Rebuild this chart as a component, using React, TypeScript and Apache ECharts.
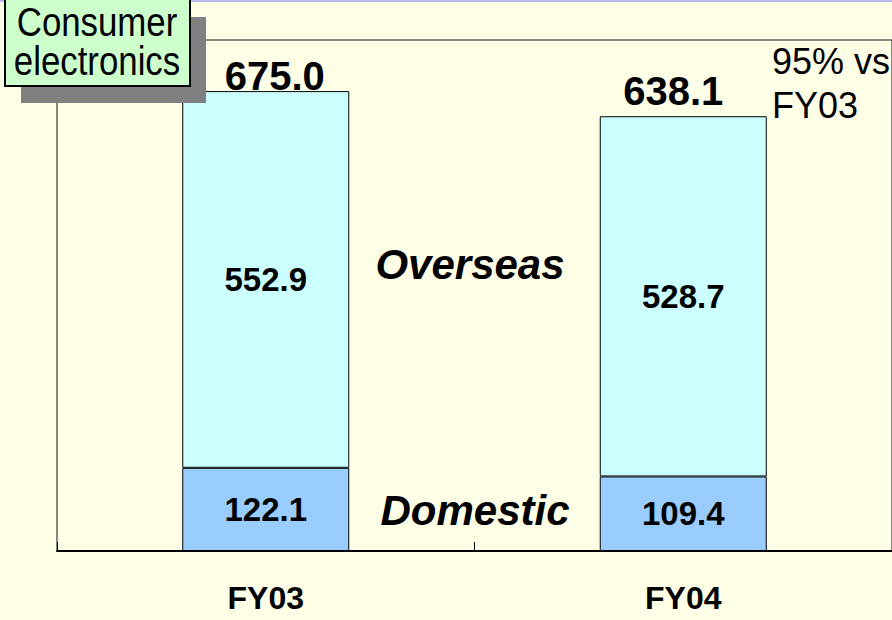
import React, { useEffect, useRef } from "react";
import * as echarts from "echarts";

const categories = ["FY03", "FY04"];
const domestic = [122.1, 109.4];
const overseas = [552.9, 528.7];
const totals = [675.0, 638.1];
const totalLabelOffsets = [
  [9, -15],
  [-10, -25],
];
const yMax = 750;

const FONT = "'Liberation Sans', Arial, sans-serif";

export default function App() {
  const ref = useRef<HTMLDivElement>(null);
  useEffect(() => {
    if (!ref.current) return;
    const chart = echarts.init(ref.current, null, { renderer: "svg" });
    const barLabel = {
      show: true,
      position: "inside",
      color: "#000",
      fontFamily: FONT,
      fontWeight: "bold",
      fontSize: 33,
      formatter: (p: any) => Number(p.value).toFixed(1),
    };
    chart.setOption({
      animation: false,
      backgroundColor: "#FFFFE8",
      textStyle: { fontFamily: FONT },
      grid: {
        left: 57,
        top: 40,
        right: -3,
        bottom: 69,
        show: true,
        borderColor: "#111",
        borderWidth: 1,
        backgroundColor: "transparent",
      },
      xAxis: {
        type: "category",
        data: categories,
        axisLine: { lineStyle: { color: "#000", width: 2 } },
        axisTick: { show: true, inside: true, length: 9, lineStyle: { color: "#000", width: 1 } },
        axisLabel: { color: "#000", fontSize: 32, fontWeight: "bold", fontFamily: FONT, margin: 31 },
      },
      yAxis: {
        type: "value",
        min: 0,
        max: yMax,
        axisLine: { show: false },
        axisTick: { show: false },
        axisLabel: { show: false },
        splitLine: { show: false },
      },
      series: [
        {
          name: "Domestic",
          type: "bar",
          stack: "total",
          barWidth: 167,
          data: domestic,
          itemStyle: { color: "#99CCFF", borderColor: "#000", borderWidth: 1 },
          label: barLabel,
        },
        {
          name: "Overseas",
          type: "bar",
          stack: "total",
          barWidth: 167,
          data: overseas,
          itemStyle: { color: "#CCFFFF", borderColor: "#000", borderWidth: 1 },
          label: barLabel,
        },
        {
          name: "Total",
          type: "scatter",
          symbolSize: 0,
          itemStyle: { opacity: 1 },
          data: totals.map((v, i) => ({ value: v, label: { offset: totalLabelOffsets[i] } })),
          label: {
            show: true,
            position: "inside",
            color: "#000",
            opacity: 1,
            fontFamily: FONT,
            fontWeight: "bold",
            fontSize: 40,
            formatter: (p: any) => Number(p.value).toFixed(1),
          },
        },
      ],
      graphic: [
        { type: "rect", left: 0, top: 0, shape: { width: 892, height: 2 }, style: { fill: "#B8B8EE" }, z: 10 },
        { type: "rect", x: 21, y: 17, shape: { width: 185, height: 86 }, style: { fill: "#808080" }, z: 10 },
        {
          type: "rect",
          x: 5,
          y: -2,
          shape: { width: 185, height: 88 },
          style: { fill: "#CCFFCC", stroke: "#000", lineWidth: 2 },
          z: 11,
        },
        {
          type: "text",
          x: 97,
          y: 42,
          scaleX: 0.87,
          z: 12,
          style: {
            text: "Consumer\nelectronics",
            fill: "#000",
            font: `40px ${FONT}`,
            lineHeight: 39,
            align: "center",
            verticalAlign: "middle",
          },
        },
        {
          type: "text",
          x: 772,
          y: 83,
          z: 12,
          style: {
            text: "95% vs\nFY03",
            fill: "#000",
            font: `36px ${FONT}`,
            lineHeight: 44,
            align: "left",
            verticalAlign: "middle",
          },
        },
        {
          type: "text",
          x: 470,
          y: 264,
          z: 12,
          style: {
            text: "Overseas",
            fill: "#000",
            font: `italic bold 42px ${FONT}`,
            align: "center",
            verticalAlign: "middle",
          },
        },
        {
          type: "text",
          x: 475,
          y: 510,
          z: 12,
          style: {
            text: "Domestic",
            fill: "#000",
            font: `italic bold 42px ${FONT}`,
            align: "center",
            verticalAlign: "middle",
          },
        },
      ],
    });
    return () => chart.dispose();
  }, []);
  return (
    <div
      ref={ref}
      style={{ position: "fixed", left: 0, top: 0, width: 892, height: 620 }}
    />
  );
}
